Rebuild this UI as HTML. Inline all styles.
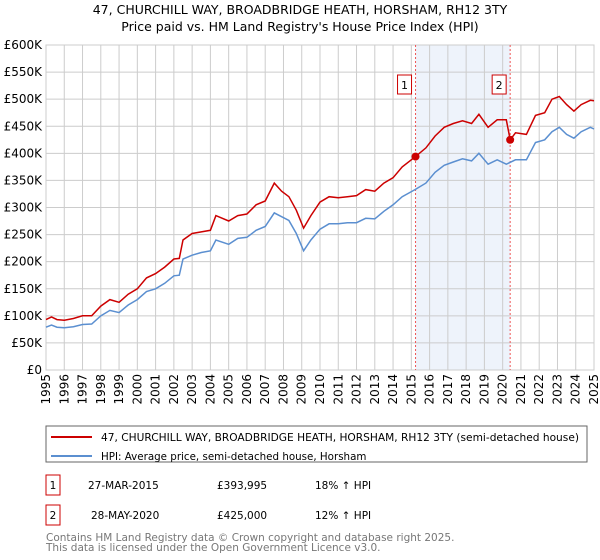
<!DOCTYPE html>
<html><head><meta charset="utf-8"><style>
body{margin:0;background:#fff;font-family:"Liberation Sans","DejaVu Sans",sans-serif;}
#wrap{position:relative;width:600px;height:560px;overflow:hidden}
svg text{font-family:"DejaVu Sans","Liberation Sans",sans-serif}
</style></head><body><div id="wrap">
<svg id="c" width="600" height="560" xmlns="http://www.w3.org/2000/svg">
<text x="300" y="14" text-anchor="middle" font-size="12.5" fill="#000">47, CHURCHILL WAY, BROADBRIDGE HEATH, HORSHAM, RH12 3TY</text>
<text x="300" y="31" text-anchor="middle" font-size="12.5" fill="#000">Price paid vs. HM Land Registry's House Price Index (HPI)</text>
<g id="grid"></g><g id="series"></g>
<rect x="46" y="426" width="541" height="36" fill="#fff" stroke="#666"/>
<line x1="51" y1="437" x2="92" y2="437" stroke="#cc0000" stroke-width="2"/>
<text x="101" y="441" font-size="10.3" textLength="478" lengthAdjust="spacingAndGlyphs">47, CHURCHILL WAY, BROADBRIDGE HEATH, HORSHAM, RH12 3TY (semi-detached house)</text>
<line x1="51" y1="456" x2="92" y2="456" stroke="#5b8fd0" stroke-width="2"/>
<text x="101" y="460" font-size="10.3">HPI: Average price, semi-detached house, Horsham</text>
<g font-size="10.5">
<rect x="46" y="475" width="14" height="20" fill="#fff" stroke="#cc0000"/>
<text x="53" y="489" text-anchor="middle">1</text>
<text x="88" y="489">27-MAR-2015</text><text x="217" y="489">£393,995</text><text x="315" y="489">18% ↑ HPI</text>
<rect x="46" y="505" width="14" height="20" fill="#fff" stroke="#cc0000"/>
<text x="53" y="519" text-anchor="middle">2</text>
<text x="91" y="519">28-MAY-2020</text><text x="217" y="519">£425,000</text><text x="315" y="519">12% ↑ HPI</text>
</g>
<text x="46" y="541" font-size="10.5" fill="#777">Contains HM Land Registry data © Crown copyright and database right 2025.</text>
<text x="46" y="551" font-size="10.5" fill="#777">This data is licensed under the Open Government Licence v3.0.</text>
</svg></div>
<script>
const hpiYears=[1995,1995.3,1995.6,1996,1996.5,1997,1997.5,1998,1998.5,1999,1999.5,2000,2000.5,2001,2001.5,2002,2002.3,2002.5,2003,2003.5,2004,2004.3,2005,2005.5,2006,2006.5,2007,2007.5,2007.9,2008.3,2008.7,2009.1,2009.5,2010,2010.5,2011,2011.5,2012,2012.5,2013,2013.5,2014,2014.5,2015.2,2015.8,2016.3,2016.8,2017.3,2017.8,2018.3,2018.7,2019.2,2019.7,2020.2,2020.7,2021.3,2021.8,2022.3,2022.7,2023.1,2023.5,2023.9,2024.3,2024.8,2025];
const hpiValues=[79,83,79,78,80,84,85,100,110,106,120,130,145,150,160,174,175,205,212,217,220,240,232,243,245,258,265,290,283,276,252,220,240,260,270,270,272,272,280,279,293,305,320,333,345,365,378,384,390,386,400,380,388,380,388,388,420,425,440,448,435,428,440,448,445];
const priceYears=[1995,1995.3,1995.6,1996,1996.5,1997,1997.5,1998,1998.5,1999,1999.5,2000,2000.5,2001,2001.5,2002,2002.3,2002.5,2003,2003.5,2004,2004.3,2005,2005.5,2006,2006.5,2007,2007.5,2007.9,2008.3,2008.7,2009.1,2009.5,2010,2010.5,2011,2011.5,2012,2012.5,2013,2013.5,2014,2014.5,2015.23,2015.8,2016.3,2016.8,2017.3,2017.8,2018.3,2018.7,2019.2,2019.7,2020.2,2020.41,2020.7,2021.3,2021.8,2022.3,2022.7,2023.1,2023.5,2023.9,2024.3,2024.8,2025];
const priceValues=[93,98,93,92,95,100,100,118,130,125,140,150,170,178,190,205,206,240,252,255,258,285,275,285,288,305,312,345,330,320,295,262,285,310,320,318,320,322,333,330,345,355,375,394,410,432,448,455,460,455,472,448,462,462,425,438,435,470,475,500,505,490,478,490,498,497];
const saleYears=[2015.23,2020.41];
const saleValues=[393995,425000];
const yTicks=[0,50,100,150,200,250,300,350,400,450,500,550,600];
const xTicks=[1995,1996,1997,1998,1999,2000,2001,2002,2003,2004,2005,2006,2007,2008,2009,2010,2011,2012,2013,2014,2015,2016,2017,2018,2019,2020,2021,2022,2023,2024,2025];
const X0=46,X1=594,Y0=370,Y1=45;
const sx=y=>X0+(y-1995)/30*(X1-X0);
const sy=v=>Y0-v/600*(Y0-Y1);
const NS="http://www.w3.org/2000/svg";
function mk(t,a,p){const e=document.createElementNS(NS,t);for(const k in a)e.setAttribute(k,a[k]);p.appendChild(e);return e;}
const g=document.getElementById('grid'),s=document.getElementById('series');
const band=mk('rect',{x:sx(saleYears[0]),y:Y1,width:sx(saleYears[1])-sx(saleYears[0]),height:Y0-Y1,fill:'#eef3fb'},g);


yTicks.forEach(v=>{const l=mk('line',{x1:X0,x2:X1,y1:sy(v),y2:sy(v),stroke:'#ccc'},g);


const t=mk('text',{x:X0-4,y:sy(v)+4,'text-anchor':'end','font-size':12},g);t.textContent=v===0?'£0':'£'+v+'K';

});
xTicks.forEach(y=>{const l=mk('line',{x1:sx(y),x2:sx(y),y1:Y1,y2:Y0,stroke:'#ccc'},g);


const tx=sx(y)+4,ty=Y0+4;
const t=mk('text',{x:tx,y:ty,'text-anchor':'end','font-size':12,transform:'rotate(-90 '+tx+' '+ty+')'},g);t.textContent=y;

});
mk('rect',{x:X0,y:Y1,width:X1-X0,height:Y0-Y1,fill:'none',stroke:'#ccc'},g);
saleYears.forEach((y,i)=>{const l=mk('line',{x1:sx(y),x2:sx(y),y1:Y1,y2:Y0,stroke:'#ee5555','stroke-dasharray':'2,2'},g);


const r=mk('rect',{x:sx(y)-18,y:Y1+30,width:14,height:19,fill:'#fff',stroke:'#cc0000'},g);


const t=mk('text',{x:sx(y)-11,y:Y1+44,'text-anchor':'middle','font-size':11},g);t.textContent=String(i+1);

});
const pts=(xs,vs)=>xs.map((y,i)=>sx(y).toFixed(1)+','+sy(vs[i]).toFixed(1)).join(' ');
const hl=mk('polyline',{points:pts(hpiYears,hpiValues),fill:'none',stroke:'#5b8fd0','stroke-width':1.5},s);


const pl=mk('polyline',{points:pts(priceYears,priceValues),fill:'none',stroke:'#cc0000','stroke-width':1.5},s);


saleYears.forEach((y,i)=>{const c=mk('circle',{cx:sx(y),cy:sy(saleValues[i]/1000),r:4,fill:'#cc0000'},s);

});
</script></body></html>
